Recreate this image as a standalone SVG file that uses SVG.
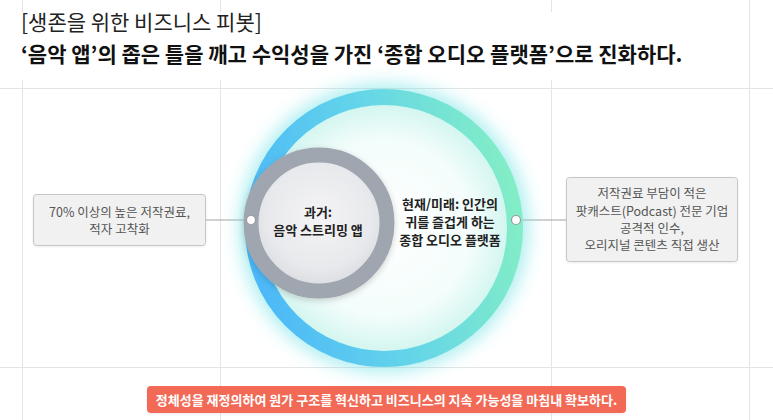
<svg xmlns="http://www.w3.org/2000/svg" width="773" height="420" viewBox="0 0 773 420">
  <style>
    .grid { stroke: #e4e4e4; stroke-width: 1; fill: none; }
    .t { font-family: "Noto Sans CJK KR", "Noto Sans", sans-serif; }
    .box { fill: #f1f1f1; stroke: #c6c6c6; stroke-width: 1; }
    .boxtxt { font-size: 12.5px; fill: #555555; text-anchor: middle; }
    .ctr { font-size: 13px; font-weight: 700; fill: #222222; text-anchor: middle; }
    .conn { stroke: #a3a3a3; stroke-width: 1.2; fill: none; }
    .dot { fill: #ffffff; stroke: #9a9a9a; stroke-width: 1.2; }
  </style>
  <defs>
    <linearGradient id="ringGrad" x1="0" y1="0.6" x2="1" y2="0.4">
      <stop offset="0" stop-color="#4db8f8"/>
      <stop offset="0.5" stop-color="#63d5e9"/>
      <stop offset="1" stop-color="#82edc6"/>
    </linearGradient>
    <radialGradient id="innerBig" cx="0.5" cy="0.5" r="0.5">
      <stop offset="0" stop-color="#ffffff"/>
      <stop offset="0.72" stop-color="#f3fdfb"/>
      <stop offset="1" stop-color="#d4f6f0"/>
    </radialGradient>
    <radialGradient id="innerGray" cx="0.5" cy="0.45" r="0.55">
      <stop offset="0" stop-color="#f4f4f6"/>
      <stop offset="0.7" stop-color="#e8e9ec"/>
      <stop offset="1" stop-color="#d9dadf"/>
    </radialGradient>
    <filter id="glow" x="-30%" y="-30%" width="160%" height="160%">
      <feGaussianBlur stdDeviation="9"/>
    </filter>
    <filter id="shadow" x="-20%" y="-20%" width="140%" height="140%">
      <feDropShadow dx="0" dy="2" stdDeviation="3" flood-color="#000000" flood-opacity="0.18"/>
    </filter>
    <filter id="boxShadow" x="-10%" y="-20%" width="120%" height="150%">
      <feDropShadow dx="0" dy="1" stdDeviation="1" flood-color="#000000" flood-opacity="0.08"/>
    </filter>
  </defs>

  <rect width="773" height="420" fill="#ffffff"/>

  <g id="grid">
    <line class="grid" x1="0" y1="88.5" x2="773" y2="88.5"/>
    <line class="grid" x1="0" y1="367.5" x2="773" y2="367.5"/>
    <line class="grid" x1="22.5" y1="0" x2="22.5" y2="12"/>
    <line class="grid" x1="22.5" y1="80" x2="22.5" y2="420"/>
    <line class="grid" x1="220.5" y1="0" x2="220.5" y2="12"/>
    <line class="grid" x1="220.5" y1="80" x2="220.5" y2="420"/>
    <line class="grid" x1="551.5" y1="0" x2="551.5" y2="12"/>
    <line class="grid" x1="551.5" y1="80" x2="551.5" y2="420"/>
    <line class="grid" x1="749.5" y1="0" x2="749.5" y2="420"/>
  </g>

  <g id="title" class="t">
    <text x="21" y="30" font-size="21" fill="#222222">[생존을 위한 비즈니스 피봇]</text>
    <text x="21" y="62" font-size="21" font-weight="700" fill="#111111">‘음악 앱’의 좁은 틀을 깨고 수익성을 가진 ‘종합 오디오 플랫폼’으로 진화하다.</text>
  </g>

  <g id="connectors">
    <line class="conn" x1="206" y1="220" x2="251" y2="220"/>
    <line class="conn" x1="516" y1="220" x2="566" y2="220"/>
  </g>

  <g id="future">
    <circle cx="384" cy="228" r="131" fill="none" stroke="#70e2e6" stroke-width="26" opacity="0.6" filter="url(#glow)"/>
    <circle cx="384" cy="228" r="123" fill="url(#innerBig)"/>
    <circle cx="384" cy="228" r="131" fill="none" stroke="url(#ringGrad)" stroke-width="16"/>
    <text class="t ctr" x="450" y="209">현재/미래: 인간의</text>
    <text class="t ctr" x="450" y="227">귀를 즐겁게 하는</text>
    <text class="t ctr" x="450" y="245">종합 오디오 플랫폼</text>
  </g>

  <g id="past">
    <circle cx="319" cy="223" r="68" fill="url(#innerGray)" stroke="#a0a6af" stroke-width="15" filter="url(#shadow)"/>
    <text class="t ctr" x="318" y="217">과거:</text>
    <text class="t ctr" x="318" y="235">음악 스트리밍 앱</text>
  </g>

  <g id="dots">
    <circle class="dot" cx="251" cy="220" r="4.5"/>
    <circle class="dot" cx="516" cy="220" r="4.5"/>
  </g>

  <g id="left-box">
    <rect class="box" x="33.5" y="194.5" width="172" height="51" rx="3" filter="url(#boxShadow)"/>
    <text class="t boxtxt" x="119.5" y="217" font-size="13">70% 이상의 높은 저작권료,</text>
    <text class="t boxtxt" x="119.5" y="234" font-size="13">적자 고착화</text>
  </g>

  <g id="right-box">
    <rect class="box" x="566.5" y="177.5" width="171" height="84" rx="3" filter="url(#boxShadow)"/>
    <text class="t boxtxt" x="652" y="198">저작권료 부담이 적은</text>
    <text class="t boxtxt" x="652" y="216">팟캐스트(Podcast) 전문 기업</text>
    <text class="t boxtxt" x="652" y="233">공격적 인수,</text>
    <text class="t boxtxt" x="652" y="250">오리지널 콘텐츠 직접 생산</text>
  </g>

  <g id="banner">
    <rect x="147" y="386" width="479" height="27" rx="4" fill="#f26a57" filter="url(#boxShadow)"/>
    <text class="t" x="386.5" y="404.5" font-size="13" font-weight="700" fill="#ffffff" text-anchor="middle">정체성을 재정의하여 원가 구조를 혁신하고 비즈니스의 지속 가능성을 마침내 확보하다.</text>
  </g>
</svg>
